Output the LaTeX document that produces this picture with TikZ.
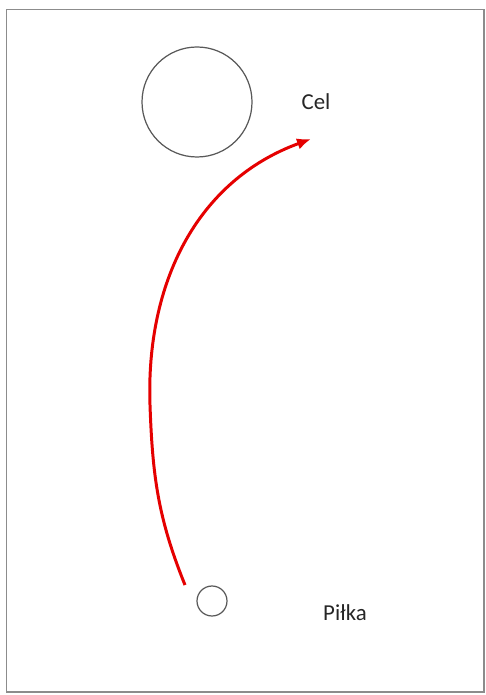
\documentclass[tikz,border=0pt]{standalone}
\usepackage{fontspec}
\setmainfont{Carlito}
\usetikzlibrary{arrows.meta, positioning}

\begin{document}
\begin{tikzpicture}[
  x=0.02cm, y=-0.02cm,
  ring/.style={circle, draw=black!65, line width=0.7pt, inner sep=0pt},
  lbl/.style={font=\fontsize{13}{15}\selectfont, text=black!85, inner sep=0pt},
  path/.style={-{Latex[length=2.8mm, width=2.3mm]}, red!90!black, line width=1.7pt},
  frame/.style={draw=black!45, line width=1.1pt}
]
\useasboundingbox (0,0) rectangle (485,695);
\draw[frame] (6.5,9.5) rectangle (484,692);

\node[ring, minimum size=110*0.02cm] (target) at (197,102) {};
\node[lbl] (targetL) at (316,102) {Cel};

\node[ring, minimum size=30*0.02cm] (ball) at (212,601) {};
\node[lbl] (ballL) at (345,613) {Piłka};

\coordinate (kick) at (185,585);
\coordinate (apex) at (150,405);
\coordinate (goal) at (311,139);

\draw[path] (kick) to[out=112, in=272] (apex)
                   to[out=92, in=200] (goal);
\end{tikzpicture}
\end{document}
